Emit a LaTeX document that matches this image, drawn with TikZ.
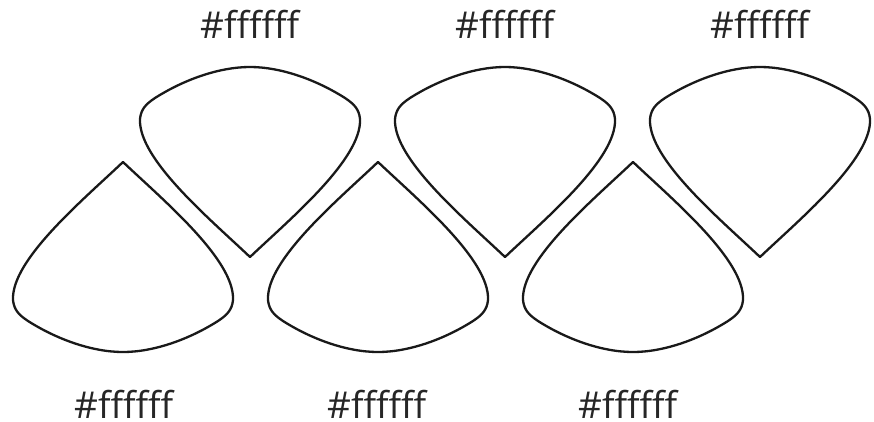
\documentclass[tikz,border=0pt]{standalone}
\usepackage{fontspec}
\setmainfont{Open Sans}
\begin{document}
\begin{tikzpicture}[x=1pt,y=-1pt,
  petal/.style={draw=black!90,line width=2.3pt,line join=round,fill=white},
  lbl/.style={font=\fontsize{37}{40}\selectfont,text=black!85,inner sep=0pt,text depth=0pt,anchor=base}]
\useasboundingbox (0,0) rectangle (874,421);
\newcommand\petalpath[3]{%
  % #1 = apex x, #2 = apex y, #3 = direction (1 = body below apex, -1 = body above)
  \begin{scope}[shift={(#1,#2)},yscale=#3]
  \draw[petal] (0,0) .. controls (-40,38) and (-112,98) .. (-110,138)
    .. controls (-109,148) and (-104,153) .. (-95,159)
    .. controls (-65,178) and (-30,190) .. (0,190)
    .. controls (30,190) and (65,178) .. (95,159)
    .. controls (104,153) and (109,148) .. (110,138)
    .. controls (112,98) and (40,38) .. (0,0) -- cycle;
  \end{scope}}
% top row (pointing down)
\petalpath{250}{257}{-1}
\petalpath{505}{257}{-1}
\petalpath{760}{257}{-1}
% bottom row (pointing up)
\petalpath{123}{162}{1}
\petalpath{378}{162}{1}
\petalpath{633}{162}{1}
% labels
\node[lbl] (t1) at (250,38) {\#ffffff};
\node[lbl] (t2) at (505,38) {\#ffffff};
\node[lbl] (t3) at (760,38) {\#ffffff};
\node[lbl] (b1) at (124,418) {\#ffffff};
\node[lbl] (b2) at (377,418) {\#ffffff};
\node[lbl] (b3) at (628,418) {\#ffffff};
\end{tikzpicture}
\end{document}
